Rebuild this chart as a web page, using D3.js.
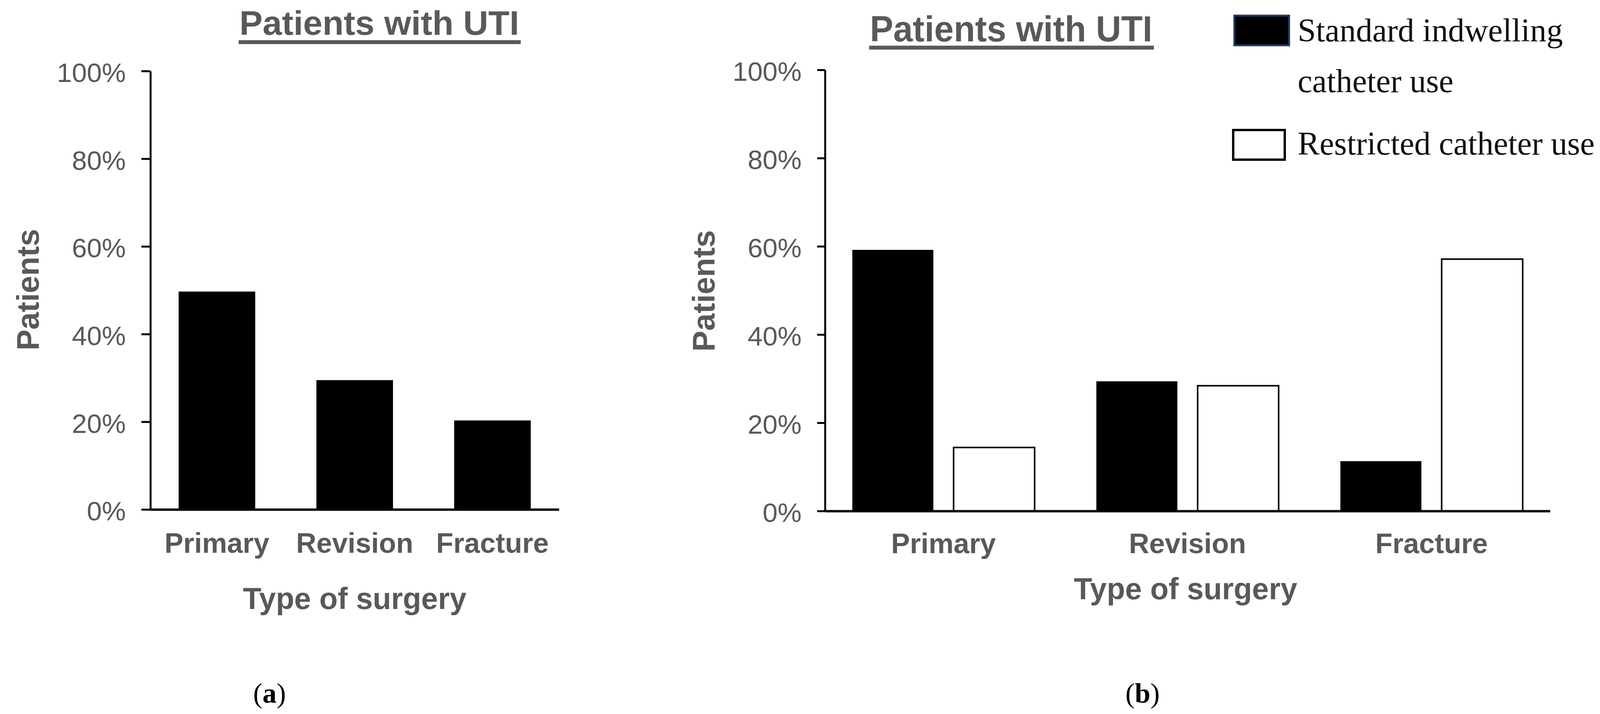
<!DOCTYPE html>
<html>
<head>
<meta charset="utf-8">
<script src="https://cdn.jsdelivr.net/npm/d3@7"></script>
<style>
    body { margin: 0; background: #fff; }
    .tick text { fill: #595959; }
</style>
</head>
<body>
<div id="chart"></div>
<script>
// values
var categories = ["Primary", "Revision", "Fracture"];
var utiShare = [49.7, 29.5, 20.3];          // panel (a)
var standardUse = [59.2, 29.4, 11.3];       // panel (b), black bars
var restrictedUse = [14.4, 28.4, 57.1];     // panel (b), white bars
var seriesKeys = ["standard", "restricted"];
var legendLines = [["Standard indwelling", "catheter use"], ["Restricted catheter use"]];
var yTicks = [0, 20, 40, 60, 80, 100];

var svgWidth = 4111;
var svgHeight = 1829;
var grey = "#595959";
var sans = "'Liberation Sans', Arial, sans-serif";
var serif = "'Liberation Serif', 'Times New Roman', serif";

var svg = d3.select("#chart")
    .append("svg")
    .attr("width", svgWidth)
    .attr("height", svgHeight);

function yAxis(g, scale, tickLen) {
    g.call(d3.axisLeft(scale)
            .tickValues(yTicks)
            .tickFormat(d => d + "%")
            .tickSizeInner(tickLen)
            .tickSizeOuter(0)
            .tickPadding(40));
    g.selectAll("path, line").attr("stroke", "#000").attr("stroke-width", 5);
    g.selectAll("text")
        .style("font-family", sans)
        .style("font-size", "69px")
        .attr("dy", "0.40em");
}

function xAxis(g, scale, pad) {
    g.call(d3.axisBottom(scale).tickSize(0).tickPadding(pad));
    g.select(".domain").attr("stroke", "#000").attr("stroke-width", 6);
    g.selectAll("text")
        .style("font-family", sans)
        .style("font-size", "72px")
        .style("font-weight", "bold");
}

function titles(x, y, width, size, underlineY) {
    svg.append("text")
        .attr("x", x)
        .attr("y", y)
        .attr("textLength", width)
        .attr("lengthAdjust", "spacingAndGlyphs")
        .style("font-family", sans)
        .style("font-size", size + "px")
        .style("font-weight", "bold")
        .style("fill", grey)
        .text("Patients with UTI");
    svg.append("line")
        .attr("x1", x - 2)
        .attr("x2", x + width + 4)
        .attr("y1", underlineY)
        .attr("y2", underlineY)
        .attr("stroke", grey)
        .attr("stroke-width", 10);
}

function axisTitles(yx, yy, tx, ty) {
    svg.append("text")
        .attr("transform", `translate(${yx}, ${yy}) rotate(-90)`)
        .attr("text-anchor", "middle")
        .attr("dy", "0.36em")
        .style("font-family", sans)
        .style("font-size", "80px")
        .style("font-weight", "bold")
        .style("fill", grey)
        .text("Patients");
    svg.append("text")
        .attr("x", tx)
        .attr("y", ty)
        .attr("text-anchor", "middle")
        .style("font-family", sans)
        .style("font-size", "77px")
        .style("font-weight", "bold")
        .style("fill", grey)
        .text("Type of surgery");
}

// ---------- panel (a) ----------
var xA = d3.scaleBand()
    .domain(categories)
    .range([385, 1431])
    .paddingInner(0.444)
    .paddingOuter(0.205);

var yA = d3.scaleLinear()
    .domain([0, 100])
    .range([1305, 182]);

svg.append("g")
    .selectAll("rect")
    .data(categories)
    .enter()
    .append("rect")
    .attr("x", d => xA(d))
    .attr("y", (d, i) => yA(utiShare[i]))
    .attr("width", xA.bandwidth())
    .attr("height", (d, i) => yA(0) - yA(utiShare[i]))
    .attr("fill", "#000");

svg.append("g")
    .attr("transform", `translate(0, ${yA(0)})`)
    .call(xAxis, xA, 60);

svg.append("g")
    .attr("transform", `translate(${xA.range()[0]}, 0)`)
    .call(yAxis, yA, 23);

titles(613, 89, 716, 88, 108);
axisTitles(70, 742, 908, 1560);

// ---------- panel (b) ----------
var xB = d3.scaleBand()
    .domain(categories)
    .range([2112, 3968])
    .paddingInner(0.253)
    .paddingOuter(0.112);

var xSub = d3.scaleBand()
    .domain(seriesKeys)
    .range([0, xB.bandwidth()])
    .paddingInner(0.2);

var yB = d3.scaleLinear()
    .domain([0, 100])
    .range([1309, 179]);

var grouped = categories.map((c, i) => ({
    cat: c,
    vals: [{key: "standard", v: standardUse[i]}, {key: "restricted", v: restrictedUse[i]}]
}));

svg.append("g")
    .selectAll("g")
    .data(grouped)
    .enter()
    .append("g")
    .attr("transform", d => `translate(${xB(d.cat)}, 0)`)
    .selectAll("rect")
    .data(d => d.vals)
    .enter()
    .append("rect")
    .attr("x", d => xSub(d.key))
    .attr("y", d => yB(d.v))
    .attr("width", xSub.bandwidth())
    .attr("height", d => yB(0) - yB(d.v))
    .attr("fill", d => d.key == "standard" ? "#000" : "#fff")
    .attr("stroke", "#000")
    .attr("stroke-width", d => d.key == "standard" ? 0 : 4);

svg.append("g")
    .attr("transform", `translate(0, ${yB(0)})`)
    .call(xAxis, xB, 57);

svg.append("g")
    .attr("transform", `translate(${xB.range()[0]}, 0)`)
    .call(yAxis, yB, 20);

titles(2227, 106, 723, 93, 122);
axisTitles(1800, 745, 3035, 1535);

// legend
var legendBoxes = [
    {x: 3160, y: 40, w: 140, h: 76, fill: "#000", stroke: "#1f3864", sw: 5},
    {x: 3157, y: 333, w: 132, h: 76, fill: "#fff", stroke: "#000", sw: 6}
];
var legendBase = [[106, 236], [396]];

legendBoxes.forEach(function(b, i) {
    svg.append("rect")
        .attr("x", b.x)
        .attr("y", b.y)
        .attr("width", b.w)
        .attr("height", b.h)
        .attr("fill", b.fill)
        .attr("stroke", b.stroke)
        .attr("stroke-width", b.sw);
    legendLines[i].forEach(function(line, j) {
        svg.append("text")
            .attr("x", 3322)
            .attr("y", legendBase[i][j])
            .style("font-family", serif)
            .style("font-size", "84px")
            .style("fill", "#111")
            .text(line);
    });
});

// panel letters
[["a", 690], ["b", 2925]].forEach(function(p) {
    var t = svg.append("text")
        .attr("x", p[1])
        .attr("y", 1800)
        .attr("text-anchor", "middle")
        .style("font-family", serif)
        .style("font-size", "72px")
        .style("fill", "#000");
    t.append("tspan").text("(");
    t.append("tspan").style("font-weight", "bold").text(p[0]);
    t.append("tspan").text(")");
});
</script>
</body>
</html>
